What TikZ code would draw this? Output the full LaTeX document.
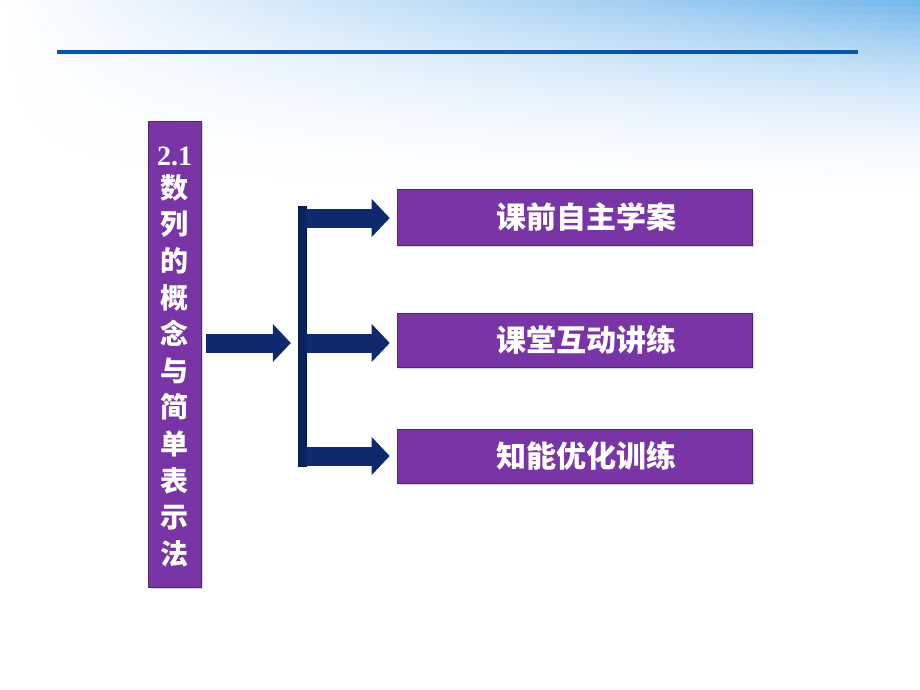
\documentclass[tikz,border=0pt]{standalone}
\usepackage{fontspec}
\setmainfont{Liberation Serif}
\newfontfamily\cjk{Noto Sans CJK SC}
\usetikzlibrary{arrows.meta,shadows}
\definecolor{boxpurple}{RGB}{121,52,166}
\definecolor{navy}{RGB}{14,42,108}
\definecolor{barnavy}{RGB}{10,34,96}
\definecolor{linblue}{RGB}{10,85,170}
\definecolor{bgblue}{RGB}{120,185,236}
\tikzset{
  purplebox/.style={draw=boxpurple!70!black, line width=0.6pt, fill=boxpurple, inner sep=0pt,
    drop shadow={opacity=0.3, shadow xshift=2pt, shadow yshift=-2pt}},
  boxtext/.style={text=white, font=\cjk\bfseries\fontsize{30}{34}\selectfont},
  blockarrow/.style={draw=navy, line width=19pt,
    -{Triangle[width=37pt, length=18pt]}},
}
\begin{document}
\begin{tikzpicture}[x=1pt, y=-1pt]
\useasboundingbox (0,0) rectangle (920,690);
% background
\fill[white] (0,0) rectangle (920,690);
\foreach \i in {0,...,29}{
  \pgfmathsetmacro{\t}{max(0,1-\i/26)}
  \pgfmathsetmacro{\p}{100*\t*\t}
  \pgfmathsetmacro{\q}{max(0,50*(1-\i/22))}
  \fill[left color=white, middle color=bgblue!\q!white, right color=bgblue!\p!white]
    (0,{\i*8}) rectangle (920,{\i*8+8.5});
}
% top rule
\draw[linblue, line width=4.5pt] (57,52) -- (858,52);

% left title column
\node[purplebox, minimum width=53pt, minimum height=466pt] (title) at (174.5,354) {};
\node[text=white, align=center, font=\cjk\bfseries\fontsize{28}{36.6}\selectfont] (titletext) at (174.5,357)
  {{\rmfamily\bfseries 2.1}\\[-4pt]数\\列\\的\\概\\念\\与\\简\\单\\表\\示\\法};

% right boxes
\node[purplebox, minimum width=355pt, minimum height=56pt] (b1) at (574.5,217) {};
\node[purplebox, minimum width=355pt, minimum height=54pt] (b2) at (574.5,340) {};
\node[purplebox, minimum width=355pt, minimum height=54pt] (b3) at (574.5,456) {};
\node[boxtext] (t1) at (586,217) {课前自主学案};
\node[boxtext] (t2) at (586,340) {课堂互动讲练};
\node[boxtext] (t3) at (586,456) {知能优化训练};

% vertical bar
\node[fill=barnavy, draw=barnavy!70!black, line width=0.4pt, minimum width=8pt, minimum height=260pt, inner sep=0pt] (bar) at (302,336) {};

% arrows
\coordinate (a0s) at ([xshift=5pt]title.east |- 0,343);
\coordinate (a0e) at ([xshift=-7pt]bar.west |- 0,343);
\draw[blockarrow] (a0s) -- (a0e);
\coordinate (a1s) at (bar.east |- 0,218);
\coordinate (a1e) at ([xshift=-7pt]b1.west |- 0,218);
\draw[blockarrow] (a1s) -- (a1e);
\coordinate (a2s) at (bar.east |- 0,343);
\coordinate (a2e) at ([xshift=-7pt]b2.west |- 0,343);
\draw[blockarrow] (a2s) -- (a2e);
\coordinate (a3s) at (bar.east |- 0,456);
\coordinate (a3e) at ([xshift=-7pt]b3.west |- 0,456);
\draw[blockarrow] (a3s) -- (a3e);
\end{tikzpicture}
\end{document}
